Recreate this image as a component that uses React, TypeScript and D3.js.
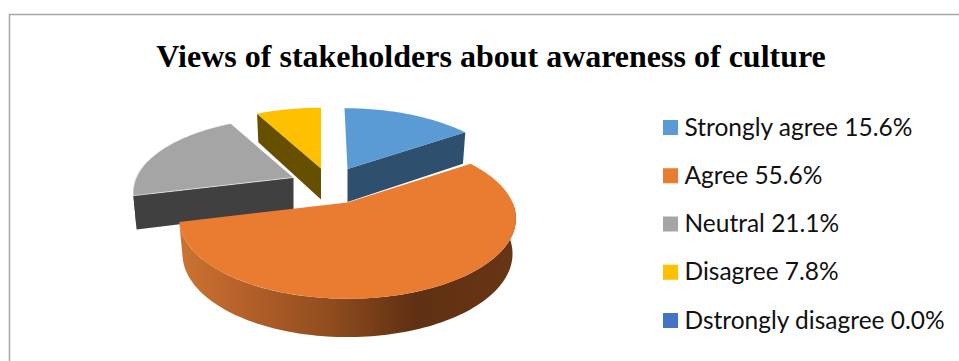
import React from "react";
import * as d3 from "d3";

const title = "Views of stakeholders about awareness of culture";
const categories = ["Strongly agree", "Agree", "Neutral", "Disagree", "Dstrongly disagree"];
const shares = [15.6, 55.6, 21.1, 7.8, 0.0];
const topColors = ["#5b9bd5", "#ea7c31", "#a5a5a5", "#ffc000", "#4472c4"];
const wallColors = ["#2f4f6f", "#7a4018", "#404040", "#665000", "#2a4476"];

const W = 959;
const H = 361;

// Exploded slice placement: apex, disc radius, disc minor radius, extrusion, lean of the far edge.
const placement = [
  { x: 347.5, y: 169, r: 160, ry: 73, depth: 33, lean: -3 },
  { x: 347.5, y: 202.5, r: 165, ry: 77, depth: 34.5, lean: 0 },
  { x: 293.5, y: 177.5, r: 157, ry: 72, depth: 33, lean: 0 },
  { x: 321, y: 168.5, r: 160, ry: 73, depth: 31, lean: 0 },
  { x: 347.5, y: 202.5, r: 165, ry: 77, depth: 34.5, lean: 0 },
];

const perspective = 0.2;
const depthPerspective = 0.1;
const baseShrink = 0.98; // the lower face sits further from the eye

const pieLayout = d3
  .pie<number>()
  .sort(null)
  .value((d) => d);
const arcs = pieLayout(shares);

type Pt = [number, number];
type Place = (typeof placement)[number];

function project(p: Place, angle: number, radius = 1): Pt {
  const u = Math.sin(angle) * radius;
  const v = Math.cos(angle) * radius;
  const k = 1 / (1 + perspective * v);
  return [p.x + p.r * u * k + p.lean * Math.max(v, 0), p.y - p.ry * v * k];
}

function lowered(p: Place, angle: number, radius = 1): Pt {
  const [x, y] = project(p, angle, radius);
  const v = Math.cos(angle) * radius;
  return [p.x + (x - p.x) * baseShrink, y + p.depth / (1 + depthPerspective * v)];
}

function sample(a0: number, a1: number): number[] {
  const n = Math.max(2, Math.ceil((a1 - a0) * 40));
  return d3.range(n + 1).map((i) => a0 + ((a1 - a0) * i) / n);
}

const line = d3.line<Pt>().curve(d3.curveLinear);

function closed(points: Pt[]): string {
  return (line(points) ?? "") + "Z";
}

function topFace(p: Place, a0: number, a1: number): string {
  return closed([[p.x, p.y], ...sample(a0, a1).map((a) => project(p, a))]);
}

function radialWall(p: Place, a: number): string {
  return closed([[p.x, p.y], project(p, a), lowered(p, a), [p.x, p.y + p.depth]]);
}

function rim(p: Place, a0: number, a1: number): string {
  const angles = sample(a0, a1);
  return closed([
    ...angles.map((a) => project(p, a)),
    ...angles.slice().reverse().map((a) => lowered(p, a)),
  ]);
}

// Only the part of the outer wall on the viewer's side of the disc is visible.
const frontFrom = Math.PI / 2;
const frontTo = (Math.PI * 3) / 2 + 0.25;

const legendY = d3
  .scalePoint<string>()
  .domain(categories)
  .range([127.5, 320.5]);

export default function App() {
  const [blue, orange, grey, yellow] = arcs;
  const pBlue = placement[0];
  const pOrange = placement[1];
  const pGrey = placement[2];
  const pYellow = placement[3];
  return (
    <svg
      width={W}
      height={H}
      viewBox={`0 0 ${W} ${H}`}
      style={{ position: "absolute", left: 0, top: 0, background: "#fff" }}
    >
      <defs>
        <linearGradient id="agreeRim" gradientUnits="userSpaceOnUse" x1={178} x2={517} y1={0} y2={0}>
          <stop offset="0" stopColor="#cc7430" />
          <stop offset="0.2" stopColor="#b4602a" />
          <stop offset="0.45" stopColor="#8f4c1e" />
          <stop offset="0.7" stopColor="#5f3012" />
          <stop offset="1" stopColor="#683615" />
        </linearGradient>
      </defs>
      <path d="M9.5 361V14.5H959" fill="none" stroke="#a6a6a6" strokeWidth={1.5} />
      <text
        x={491}
        y={67}
        textAnchor="middle"
        fontFamily="'Liberation Serif', serif"
        fontWeight={700}
        fontSize={32}
      >
        {title}
      </text>

      <path d={radialWall(pBlue, blue.endAngle)} fill={wallColors[0]} />
      <path d={topFace(pBlue, blue.startAngle, blue.endAngle)} fill={topColors[0]} />

      <path d={radialWall(pGrey, grey.startAngle)} fill={wallColors[2]} />
      <path d={rim(pGrey, grey.startAngle, frontTo)} fill={wallColors[2]} />
      <path d={topFace(pGrey, grey.startAngle, grey.endAngle)} fill={topColors[2]} stroke="#fff" strokeWidth={0.6} />

      <path d={radialWall(pYellow, yellow.startAngle)} fill={wallColors[3]} />
      <path d={topFace(pYellow, yellow.startAngle, yellow.endAngle)} fill={topColors[3]} />

      <path
        d={rim(pOrange, Math.max(orange.startAngle, frontFrom), Math.min(orange.endAngle, frontTo))}
        fill="url(#agreeRim)"
      />
      <path d={topFace(pOrange, orange.startAngle, orange.endAngle)} fill={topColors[1]} />

      {categories.map((c, i) => {
        const y = legendY(c) ?? 0;
        return (
          <g key={c}>
            <rect x={663} y={y - 7.5} width={15} height={15} fill={topColors[i]} />
            <text x={684.5} y={y + 8} fontFamily="Lato, sans-serif" fontSize={24.5} fill="#111">
              {`${c} ${shares[i].toFixed(1)}%`}
            </text>
          </g>
        );
      })}
    </svg>
  );
}
